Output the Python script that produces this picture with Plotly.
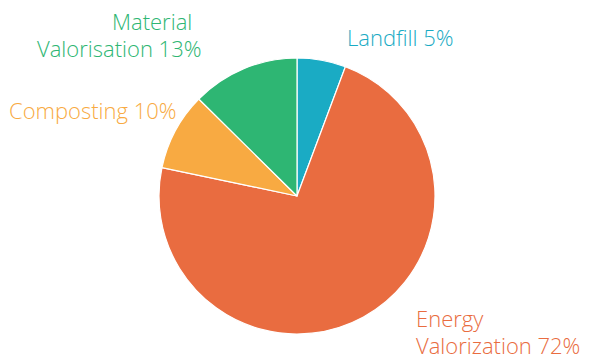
import plotly.graph_objects as go

categories = ["Landfill", "Energy Valorization", "Composting", "Material Valorisation"]
values = [5.7, 72.6, 9.1, 12.6]
label_lines = [["Landfill 5%"], ["Energy", "Valorization 72%"], ["Composting 10%"], ["Material", "Valorisation 13%"]]
colors = ["#1aabc4", "#e96c40", "#f8aa42", "#2eb673"]

W, H = 591, 359
cx, cy, r = 297, 196, 138

fig = go.Figure(go.Pie(
    labels=categories,
    values=values,
    sort=False,
    direction="clockwise",
    rotation=0,
    textinfo="none",
    hoverinfo="label+percent",
    marker=dict(colors=colors, line=dict(color="white", width=1.2)),
    domain=dict(x=[(cx - r) / W, (cx + r) / W], y=[(H - cy - r) / H, (H - cy + r) / H]),
    showlegend=False,
))

# label line placement (pixel anchors): one (x, y, xanchor) per line
label_pos = [
    [(345, 37, "left")],
    [(414, 318, "left"), (414, 345, "left")],
    [(179, 110, "right")],
    [(194, 21, "right"), (203, 48, "right")],
]
for lines, col, poss in zip(label_lines, colors, label_pos):
    for txt, (px, py, xa) in zip(lines, poss):
        fig.add_annotation(
            x=px / W, y=1 - py / H, xref="paper", yref="paper",
            text=txt, showarrow=False, xanchor=xa, yanchor="middle",
            font=dict(family="Open Sans", size=22, color=col, weight=300),
        )

fig.update_layout(
    width=W, height=H,
    margin=dict(l=0, r=0, t=0, b=0),
    paper_bgcolor="white", plot_bgcolor="white",
)
fig.write_html("out.html")
